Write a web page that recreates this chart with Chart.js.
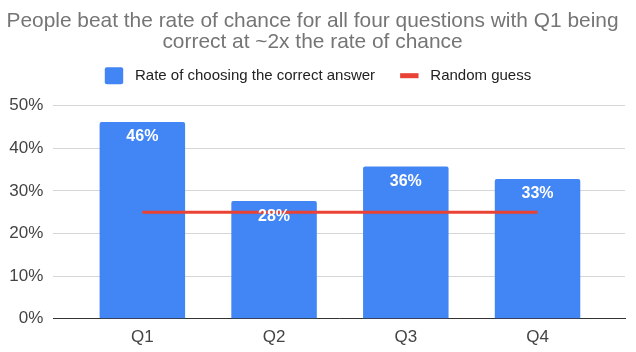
<!DOCTYPE html>
<html><head><meta charset="utf-8">
<script src="https://cdn.jsdelivr.net/npm/chart.js@4/dist/chart.umd.min.js"></script>
<style>html,body{margin:0;padding:0;background:#fff;}#wrap{width:636px;height:352px;}</style>
</head><body><div id="wrap"><canvas id="c" width="636" height="352"></canvas></div>
<script>
// ---- data ----
const categories = ['Q1', 'Q2', 'Q3', 'Q4'];
const correctRate = [46.2, 27.6, 35.7, 32.8];
const randomGuessAt = [0, 3];          // category index where the guess line starts / ends
const randomGuess = [25, 25];
const yTickMax = 50;
const yTickStep = 10;
const titleLines = ['People beat the rate of chance for all four questions with Q1 being', 'correct at ~2x the rate of chance'];
const seriesNames = ['Rate of choosing the correct answer', 'Random guess'];

const FONT = "'Liberation Sans', Arial, Helvetica, sans-serif";

const legendPlugin = {
  id: 'customLegend',
  afterDraw(chart) {
    const ctx = chart.ctx;
    const items = chart.data.datasets.map(ds => ({
      text: ds.label,
      color: ds.type === 'line' ? ds.borderColor : ds.backgroundColor,
      line: ds.type === 'line'
    }));
    ctx.save();
    ctx.font = '15px ' + FONT;
    const box = 18.4, gapText = 11.8, gapItem = 25;
    const widths = items.map(it => box + gapText + ctx.measureText(it.text).width);
    const total = widths.reduce((a, b) => a + b, 0) + gapItem * (items.length - 1);
    let x = (chart.width - total) / 2;
    const cy = 75.7;
    items.forEach((it, i) => {
      ctx.fillStyle = it.color;
      if (it.line) {
        ctx.fillRect(x, cy - 2.5, box, 5);
      } else {
        ctx.beginPath();
        ctx.roundRect(x, cy - 8.5, box, 17, 2);
        ctx.fill();
      }
      ctx.fillStyle = '#222222';
      ctx.textAlign = 'left';
      ctx.textBaseline = 'middle';
      ctx.fillText(it.text, x + box + gapText, cy);
      x += widths[i] + gapItem;
    });
    ctx.restore();
  }
};

const labelPlugin = {
  id: 'barLabels',
  afterDatasetsDraw(chart) {
    const ctx = chart.ctx;
    const meta = chart.getDatasetMeta(0);
    ctx.save();
    ctx.font = 'bold 16px ' + FONT;
    ctx.fillStyle = '#ffffff';
    ctx.textAlign = 'center';
    ctx.textBaseline = 'middle';
    meta.data.forEach((bar, i) => {
      ctx.fillText(Math.round(correctRate[i]) + '%', bar.x, bar.y + 15);
    });
    ctx.restore();
  }
};

new Chart(document.getElementById('c'), {
  type: 'bar',
  data: {
    datasets: [
      {
        type: 'bar',
        label: seriesNames[0],
        data: correctRate.map((v, i) => ({x: i, y: v})),
        backgroundColor: '#4285F4',
        borderRadius: {topLeft: 2, topRight: 2},
        barPercentage: 0.649,
        categoryPercentage: 1,
        order: 1
      },
      {
        type: 'line',
        label: seriesNames[1],
        data: randomGuessAt.map((x, i) => ({x: x, y: randomGuess[i]})),
        borderColor: '#EA4335',
        backgroundColor: '#EA4335',
        borderWidth: 3,
        pointRadius: 0,
        fill: false,
        order: 0
      }
    ]
  },
  options: {
    responsive: false,
    devicePixelRatio: 1,
    animation: false,
    events: [],
    layout: {padding: {left: 0, right: 11, top: 0, bottom: 0}},
    plugins: {
      legend: {display: false},
      tooltip: {enabled: false},
      title: {
        display: true,
        text: titleLines,
        color: '#757575',
        font: {family: FONT, size: 20.9, weight: 'normal', lineHeight: 1.0},
        padding: {top: 10.8, bottom: 53.1}
      }
    },
    scales: {
      x: {
        type: 'linear',
        offset: false,
        min: -0.676,
        max: 3.664,
        afterBuildTicks: (scale) => { scale.ticks = categories.map((c, i) => ({value: i})); },
        afterFit: (scale) => { scale.height = 33.3; },
        ticks: {
          autoSkip: false,
          maxRotation: 0,
          padding: 8,
          color: '#444444',
          font: {family: FONT, size: 17},
          callback: (v) => categories[v]
        },
        grid: {display: false, drawTicks: false, offset: false},
        border: {display: true, color: '#333333', width: 1}
      },
      y: {
        min: 0,
        max: yTickMax,
        afterFit: (scale) => { scale.width = 53.3; },
        ticks: {
          stepSize: yTickStep,
          padding: 10,
          color: '#444444',
          font: {family: FONT, size: 17},
          callback: (v) => v + '%'
        },
        grid: {color: '#d6d6d6', drawTicks: false},
        border: {display: false}
      }
    }
  },
  plugins: [legendPlugin, labelPlugin]
});
</script>
</body></html>
